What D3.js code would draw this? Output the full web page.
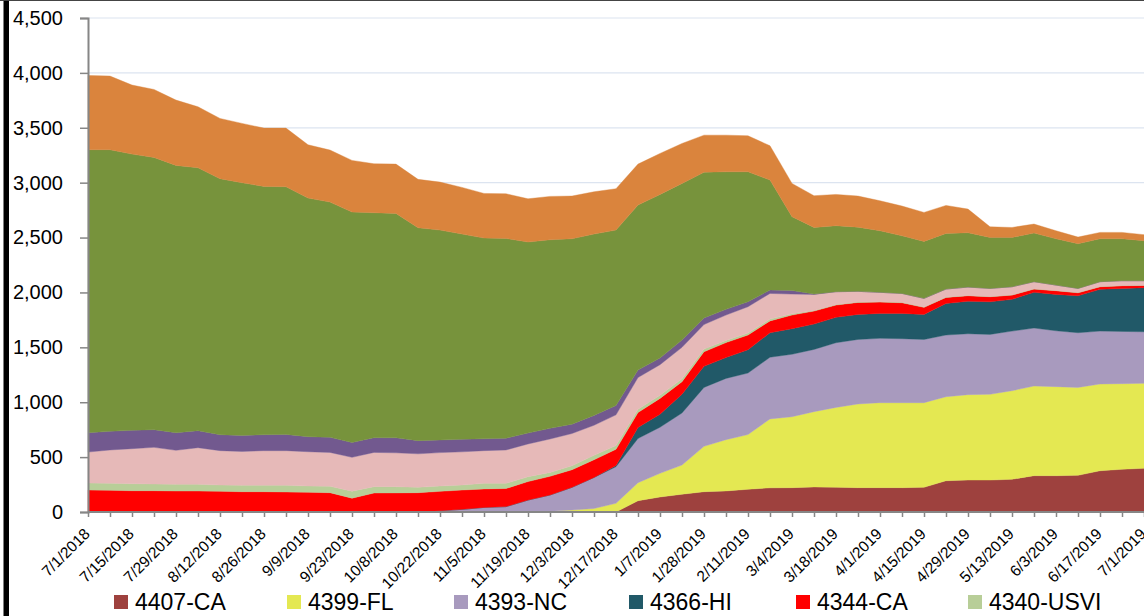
<!DOCTYPE html>
<html><head><meta charset="utf-8">
<script src="https://cdn.jsdelivr.net/npm/d3@7"></script>
<style>body{margin:0;background:#fff;} svg{display:block;font-family:"Liberation Sans",Arial,sans-serif;}</style>
</head><body><svg id="c" width="1144" height="616"></svg>
<script>
const dates = ["7/1/2018","7/8/2018","7/15/2018","7/22/2018","7/29/2018","8/5/2018","8/12/2018","8/19/2018","8/26/2018","9/2/2018","9/9/2018","9/16/2018","9/23/2018","10/1/2018","10/8/2018","10/15/2018","10/22/2018","10/29/2018","11/5/2018","11/12/2018","11/19/2018","11/26/2018","12/3/2018","12/10/2018","12/17/2018","12/31/2018","1/7/2019","1/21/2019","1/28/2019","2/4/2019","2/11/2019","2/25/2019","3/4/2019","3/11/2019","3/18/2019","3/25/2019","4/1/2019","4/8/2019","4/15/2019","4/22/2019","4/29/2019","5/6/2019","5/13/2019","5/27/2019","6/3/2019","6/10/2019","6/17/2019","6/24/2019","7/1/2019"];
const tickLabels = ["7/1/2018","7/15/2018","7/29/2018","8/12/2018","8/26/2018","9/9/2018","9/23/2018","10/8/2018","10/22/2018","11/5/2018","11/19/2018","12/3/2018","12/17/2018","1/7/2019","1/28/2019","2/11/2019","3/4/2019","3/18/2019","4/1/2019","4/15/2019","4/29/2019","5/13/2019","6/3/2019","6/17/2019","7/1/2019"];
const yTicks = [0,500,1000,1500,2000,2500,3000,3500,4000,4500];

const seriesNames = ["4407-CA","4399-FL","4393-NC","4366-HI","4344-CA","4340-USVI","4339-PR","4337-FL","4332-TX","Other"];
const legendNames = ["4407-CA","4399-FL","4393-NC","4366-HI","4344-CA","4340-USVI"];
const colors = ["#9E413E","#E4E852","#A89ABE","#215968","#FF0000","#B8CE98","#E6B9B8","#72598F","#77933C","#DA843D"];

const s4407CA = [0,0,0,0,0,0,0,0,0,0,0,0,0,0,0,0,0,0,0,0,0,0,0,0,0,103,137,162,185,192,207,220,222,228,225,222,222,222,225,285,291,291,298,331,331,334,376,389,398];
const s4399FL = [0,0,0,0,0,0,0,0,0,0,0,0,0,0,0,0,0,0,0,0,0,6,18,32,79,164,215,266,413,467,498,628,646,686,728,762,774,774,771,765,778,781,807,817,811,801,790,780,774];
const s4393NC = [0,0,0,0,0,0,0,0,0,0,0,0,0,0,0,3,12,24,42,49,109,149,207,283,334,403,420,474,537,558,561,562,569,567,589,588,586,583,576,562,555,546,543,528,509,498,482,476,470];
const s4366HI = [0,0,0,0,0,0,0,0,0,0,0,0,0,0,0,0,0,0,0,0,0,0,0,0,10,100,119,171,192,190,212,223,233,231,231,228,227,230,228,288,296,297,289,325,331,337,380,392,401];
const s4344CA = [200,197,194,194,191,191,188,185,185,182,179,176,126,173,174,173,176,176,168,165,168,170,160,161,148,136,144,114,133,136,134,108,124,118,112,109,103,97,64,55,50,46,39,30,34,27,24,24,21];
const s4340USVI = [64,64,64,61,61,61,58,58,58,61,58,58,64,58,57,49,49,46,51,47,45,35,37,40,34,30,28,26,24,20,18,16,11,5,5,4,4,4,3,3,3,2,2,2,2,2,2,2,2];
const s4339PR = [282,304,319,334,310,334,313,309,316,316,312,309,308,312,308,305,304,302,298,304,298,305,293,274,280,289,279,287,224,231,240,234,180,147,117,97,85,81,79,73,76,74,74,65,49,38,44,44,41];
const s4337FL = [176,170,167,161,160,155,145,146,145,148,137,137,135,134,137,120,115,114,108,107,99,97,85,90,85,68,60,66,60,52,45,31,33,3,0,0,0,0,0,0,0,0,0,0,0,0,0,0,0];
const s4332TX = [2578,2565,2516,2480,2435,2395,2332,2301,2262,2256,2174,2143,2099,2049,2044,1939,1912,1870,1828,1820,1740,1718,1689,1652,1598,1503,1491,1427,1328,1253,1184,1002,672,607,601,585,561,525,519,507,495,464,449,443,422,407,391,382,364];
const sOther = [677,671,629,619,595,555,549,541,531,534,485,474,471,446,449,441,437,425,407,407,394,395,389,385,377,373,373,364,337,334,328,312,303,289,285,283,273,271,264,255,215,97,91,82,73,60,58,58,55];

const seriesValues = [s4407CA,s4399FL,s4393NC,s4366HI,s4344CA,s4340USVI,s4339PR,s4337FL,s4332TX,sOther];
const rows = dates.map((d,i)=>{const r={date:d}; seriesNames.forEach((n,k)=>r[n]=seriesValues[k][i]); return r;});

const svg = d3.select("#c");
const W = 1144, H = 616;
const x = d3.scalePoint().domain(dates).range([88, 1144]);
const y = d3.scaleLinear().domain([0,4500]).range([512, 18]);

// gridlines
svg.append("g").selectAll("line").data(yTicks.filter(v=>v>0)).join("line")
  .attr("x1",88).attr("x2",W).attr("y1",d=>y(d)).attr("y2",d=>y(d))
  .attr("stroke","#DCE4F0").attr("stroke-width",1.2);

const stack = d3.stack().keys(seriesNames);
const layers = stack(rows);
const area = d3.area().x(d=>x(d.data.date)).y0(d=>y(d[0])).y1(d=>y(d[1]));
svg.append("g").selectAll("path").data(layers).join("path")
  .attr("d",area).attr("fill",(d,i)=>colors[i]).attr("stroke",(d,i)=>colors[i]).attr("stroke-width",0.4);

// y axis
const yAxis = svg.append("g").attr("transform","translate(88,0)")
  .call(d3.axisLeft(y).tickValues(yTicks).tickFormat(d3.format(",")).tickSize(8).tickPadding(17));
yAxis.select(".domain").attr("stroke","#868686").attr("stroke-width",2);
yAxis.selectAll(".tick line").attr("stroke","#868686").attr("stroke-width",1.5);
yAxis.selectAll("text").attr("font-size",20).attr("fill","#000").attr("font-family","Liberation Sans, Arial, sans-serif");

// x axis
const xAxis = svg.append("g").attr("transform","translate(0,512)")
  .call(d3.axisBottom(x).tickValues(dates).tickSize(5).tickFormat(""));
xAxis.select(".domain").attr("stroke","#868686").attr("stroke-width",2).attr("d","M88,0H1144");
xAxis.selectAll(".tick line").attr("stroke","#868686").attr("stroke-width",1.5);
svg.append("g").selectAll("text").data(tickLabels).join("text")
  .attr("transform",d=>`translate(${x(d)-1},531) rotate(-45)`)
  .attr("text-anchor","end").attr("dy","0.35em")
  .attr("font-size",15.5).attr("fill","#000").text(d=>d);

// frame bits
svg.append("rect").attr("x",3.5).attr("y",0).attr("width",5.5).attr("height",H).attr("fill","#000");
svg.append("line").attr("x1",0).attr("x2",W).attr("y1",0.5).attr("y2",0.5).attr("stroke","#444").attr("stroke-width",1);

// legend
const legendX = [114,287,454,629,796,968];
const lg = svg.append("g").selectAll("g").data(legendNames).join("g")
  .attr("transform",(d,i)=>`translate(${legendX[i]},595)`);
lg.append("rect").attr("width",14).attr("height",14).attr("fill",(d,i)=>colors[i]);
lg.append("text").attr("x",21).attr("y",15).attr("font-size",23).attr("fill","#000").text(d=>d);
</script>
</body></html>
